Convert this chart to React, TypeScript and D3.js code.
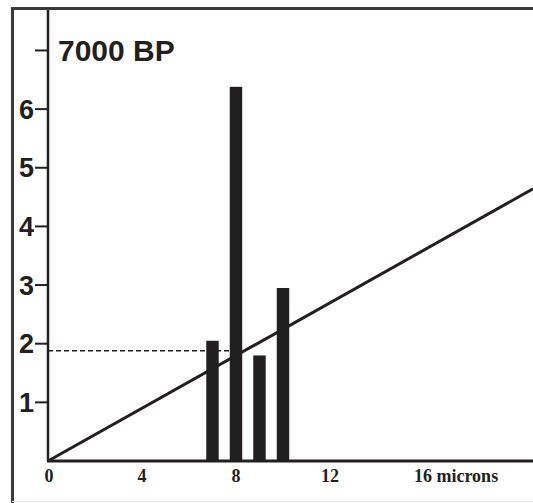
import React from 'react'
import * as d3 from 'd3'

// values
const barSizes = [7, 8, 9, 10]
const barCounts = [2.05, 6.38, 1.8, 2.95]
const xTicks = [0, 4, 8, 12, 16]
const xTickLabels = ['0', '4', '8', '12', '16 microns']
const yTicks = [1, 2, 3, 4, 5, 6, 7]
const yTickLabels = ['1', '2', '3', '4', '5', '6', '']
const trendLine: [number, number][] = [[0, 0], [20.64, 4.64]]
const dashedLevel = 1.88
const dashedEnd = 8
const title = '7000 BP'

const W = 533
const H = 503
const INK = '#231f20'

export default function App() {
  const x = d3.scaleLinear().domain([0, 20.64]).range([48, 533])
  const y = d3.scaleLinear().domain([0, 7.69]).range([461, 10])
  const barW = x(0.53) - x(0)

  const line = d3.line<[number, number]>()
    .x(d => x(d[0]))
    .y(d => y(d[1]))

  return (
    <svg width={W} height={H} style={{ position: 'absolute', left: 0, top: 0, background: '#fff' }}>
      {/* outer frame */}
      <line x1={12.5} x2={W} y1={8.5} y2={8.5} stroke="#3a3a3a" strokeWidth={3} />
      <line x1={12.5} x2={12.5} y1={7} y2={H} stroke="#3a3a3a" strokeWidth={3} />
      <line x1={12} x2={W} y1={501.5} y2={501.5} stroke="#e4e4e4" strokeWidth={1} />

      {/* dashed reference */}
      <line x1={x(0)} x2={x(dashedEnd)} y1={y(dashedLevel)} y2={y(dashedLevel)}
        stroke={INK} strokeWidth={1.5} strokeDasharray="5,3" />

      {/* bars */}
      {barSizes.map((s, i) => (
        <rect key={s} x={x(s) - barW / 2} y={y(barCounts[i])} width={barW}
          height={y(0) - y(barCounts[i])} fill={INK} />
      ))}

      {/* trend line */}
      <path d={line(trendLine) || ''} fill="none" stroke={INK} strokeWidth={3} />

      {/* axes */}
      <line x1={x(0)} x2={x(0)} y1={10} y2={y(0)} stroke={INK} strokeWidth={2.5} />
      <line x1={x(0) - 1} x2={W} y1={y(0)} y2={y(0)} stroke={INK} strokeWidth={3} />

      {yTicks.map((t, i) => (
        <g key={t}>
          <line x1={35} x2={x(0)} y1={y(t)} y2={y(t)} stroke={INK} strokeWidth={2} />
          <text x={34} y={y(t)} dy="0.36em" textAnchor="end"
            fontFamily="'Liberation Sans', Arial, sans-serif" fontWeight="bold"
            fontSize={27} fill={INK}>{yTickLabels[i]}</text>
        </g>
      ))}

      {xTicks.map((t, i) => (
        <text key={t} x={i === xTicks.length - 1 ? x(t) - 10 : x(t) + (t === 0 ? 1 : 0)} y={482}
          textAnchor={i === xTicks.length - 1 ? 'start' : 'middle'}
          fontFamily="'Liberation Serif', 'Times New Roman', serif" fontWeight="bold"
          fontSize={18} fill={INK}>{xTickLabels[i]}</text>
      ))}

      <text x={58} y={61} fontFamily="'Liberation Sans', Arial, sans-serif" fontWeight="bold"
        fontSize={30} fill={INK}>{title}</text>
    </svg>
  )
}
